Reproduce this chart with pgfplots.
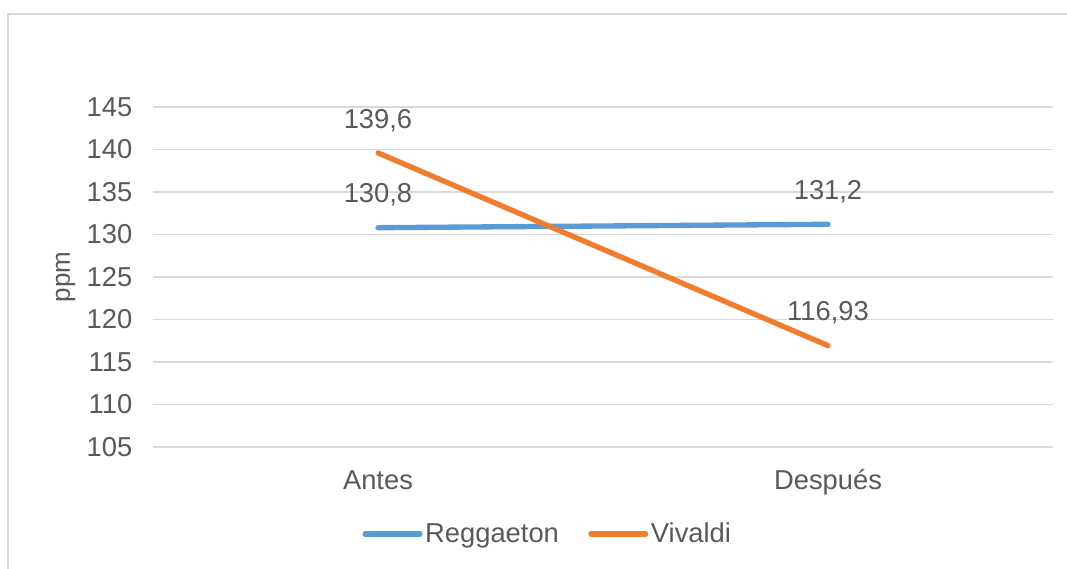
\documentclass[border=0pt]{standalone}
\usepackage{pgfplots}
\pgfplotsset{compat=1.18}
\usepackage{fontspec}
\setmainfont{Liberation Sans}
\definecolor{txt}{HTML}{595959}
\definecolor{gridc}{HTML}{D9D9D9}
\definecolor{cblue}{HTML}{5B9BD5}
\definecolor{corange}{HTML}{ED7D31}
\begin{document}
\begin{tikzpicture}
\path[use as bounding box] (0pt,0pt) rectangle (800.25pt,426pt);
\draw[gridc, line width=1.2pt] (6pt,-5pt) -- (6pt,415.5pt) -- (810pt,415.5pt);
\begin{axis}[
  at={(114.75pt,90.75pt)}, anchor=south west,
  scale only axis, width=675pt, height=255pt,
  xmin=-0.5, xmax=1.5, ymin=105, ymax=145,
  xtick={0,1}, xticklabels={Antes,Después},
  ytick={105,110,...,145},
  axis line style={draw=none},
  major tick style={draw=none},
  xmajorgrids=false, ymajorgrids=true, grid style={gridc, line width=1pt},
  /pgf/number format/assume math mode=true,
  /pgf/number format/use comma,
  /pgf/number format/precision=2,
  /pgf/number format/1000 sep={},
  tick label style={font=\fontsize{20.5}{24}\selectfont, text=txt},
  yticklabel style={xshift=-12pt},
  xticklabel style={anchor=base, yshift=-32pt},
  ylabel={ppm},
  every axis y label/.style={at={(axis description cs:-0.097,0.5)}, rotate=90, anchor=center, font=\fontsize{19.5}{22}\selectfont, text=txt},
  legend columns=2,
  legend style={at={(0.439,-0.256)}, anchor=center, draw=none, fill=none,
    font=\fontsize{20.5}{24}\selectfont, text=txt,
    /tikz/every even column/.append style={column sep=20pt}},
  legend image code/.code={\draw[#1] (0,0) -- (41pt,0);},
  nodes near coords,
  point meta=y,
  every node near coord/.append style={anchor=center, yshift=24.5pt, font=\fontsize{20.5}{24}\selectfont, text=txt},
]
\addplot[cblue, line width=4pt, line cap=round] coordinates {(0,130.8) (1,131.2)};
\addlegendentry{Reggaeton}
\addplot[corange, line width=4pt, line cap=round] coordinates {(0,139.6) (1,116.93)};
\addlegendentry{Vivaldi}
\end{axis}
\end{tikzpicture}
\end{document}
